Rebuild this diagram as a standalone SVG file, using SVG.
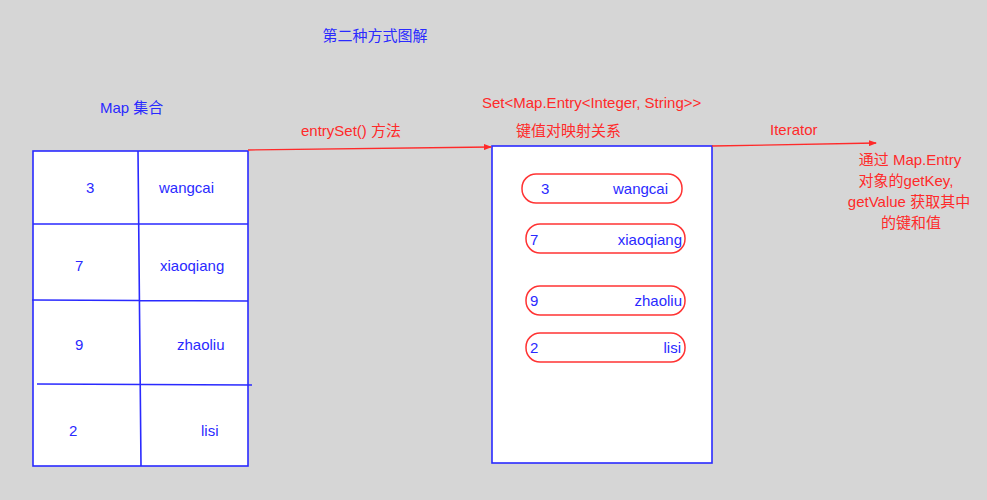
<svg xmlns="http://www.w3.org/2000/svg" width="987" height="500" viewBox="0 0 987 500">
<style>
text{font-family:"Liberation Sans","Noto Sans CJK SC",sans-serif;font-size:15px}
.b{fill:#2a2aff}
.r{fill:#ff2a2a}
.box{fill:#fff;stroke:#2a2aff;stroke-width:1.6}
.ln{stroke:#2a2aff;stroke-width:1.6;fill:none}
.pill{fill:#fff;stroke:#ff3333;stroke-width:1.5}
.arr{stroke:#ff2a2a;stroke-width:1.3;fill:none}
.m{text-anchor:middle}
.e{text-anchor:end}
</style>
<defs>
<marker id="ah" markerWidth="8" markerHeight="6" refX="7" refY="3" orient="auto" markerUnits="userSpaceOnUse">
<path d="M0,0 L8,3 L0,6 Z" fill="#ff2a2a"/>
</marker>
</defs>
<rect width="987" height="500" fill="#d6d6d6"/>
<text class="b m" x="375" y="41">第二种方式图解</text>
<g id="map">
<text class="b" x="100" y="113">Map 集合</text>
<rect class="box" x="33" y="151" width="215" height="315"/>
<path class="ln" d="M138,151 L141,466 M33,224 L248,224 M32,300 L248,301 M37,384 L252,385"/>
<text class="b" x="86" y="193">3</text>
<text class="b" x="159" y="193">wangcai</text>
<text class="b" x="75" y="271">7</text>
<text class="b" x="160" y="271">xiaoqiang</text>
<text class="b" x="75" y="350">9</text>
<text class="b" x="177" y="350">zhaoliu</text>
<text class="b" x="69" y="436">2</text>
<text class="b" x="201" y="436">lisi</text>
</g>
<g id="set">
<text class="r" x="482" y="108">Set&lt;Map.Entry&lt;Integer, String&gt;&gt;</text>
<text class="r" x="516" y="136">键值对映射关系</text>
<rect class="box" x="492" y="146" width="220" height="317"/>
</g>
<g id="e1"><rect class="pill" x="522" y="174" width="160" height="29" rx="14"/>
<text class="b" x="541" y="194">3</text><text class="b" x="613" y="194">wangcai</text></g>
<g id="e2"><rect class="pill" x="526" y="224" width="159" height="29" rx="14"/>
<text class="b" x="530" y="245">7</text><text class="b e" x="682" y="245">xiaoqiang</text></g>
<g id="e3"><rect class="pill" x="526" y="286" width="159" height="29" rx="14"/>
<text class="b" x="530" y="306">9</text><text class="b e" x="682" y="306">zhaoliu</text></g>
<g id="e4"><rect class="pill" x="526" y="333" width="159" height="29" rx="14"/>
<text class="b" x="530" y="353">2</text><text class="b e" x="681" y="353">lisi</text></g>
<g id="note">
<text class="r m" x="910" y="165">通过 Map.Entry</text>
<text class="r m" x="906" y="186">对象的getKey,</text>
<text class="r m" x="909" y="207">getValue 获取其中</text>
<text class="r m" x="911" y="228">的键和值</text>
</g>
<g id="connectors">
<path class="arr" d="M248,150 L491,147" marker-end="url(#ah)"/>
<text class="r" x="301" y="136">entrySet() 方法</text>
<path class="arr" d="M712,146 L876,143" marker-end="url(#ah)"/>
<text class="r" x="770" y="135">Iterator</text>
</g>
</svg>
